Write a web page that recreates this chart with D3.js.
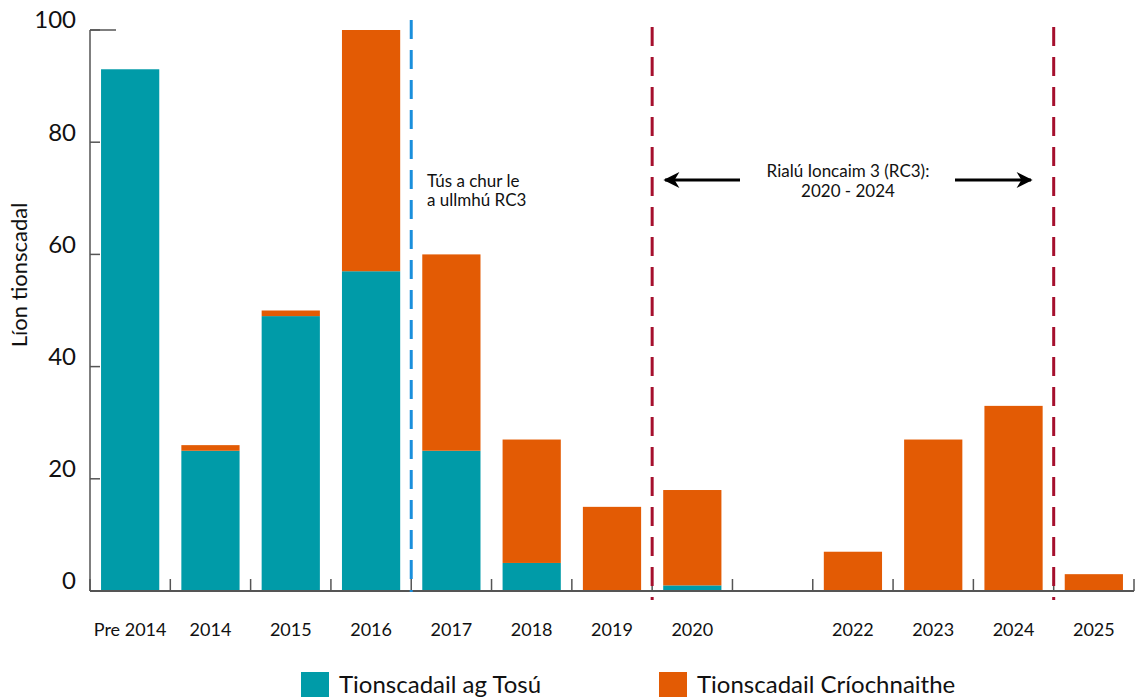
<!DOCTYPE html>
<html><head><meta charset="utf-8">
<script src="https://cdn.jsdelivr.net/npm/d3@7"></script>
<style>body{margin:0;background:#fff;font-family:Lato,"Open Sans",sans-serif;}</style>
</head><body>
<svg id="c" width="1135" height="697"></svg>
<script>
const categories = ["Pre 2014","2014","2015","2016","2017","2018","2019","2020","2021","2022","2023","2024","2025"];
const tickLabels = ["Pre 2014","2014","2015","2016","2017","2018","2019","2020","","2022","2023","2024","2025"];
const started  = [93,25,49,57,25,5,0,1,0,0,0,0,0];
const finished = [0,1,1,43,35,22,15,17,0,7,27,33,3];
const yTicks = [0,20,40,60,80,100];
const seriesNames = ["Tionscadail ag Tosú","Tionscadail Críochnaithe"];
const colors = ["#009ba8","#e35b04"];

const svg = d3.select("#c");
const L = 90, R = 1134, T = 30, B = 591;
const x = d3.scaleBand().domain(categories).range([L,R]).paddingInner(0.275).paddingOuter(0.1375);
const y = d3.scaleLinear().domain([0,100]).range([B,T]);
const font = "Lato, 'Open Sans', sans-serif";

// bars
const data = categories.map((c,i)=>({c, s:started[i], f:finished[i]}));
const g = svg.append("g");
g.selectAll("rect.s").data(data).join("rect")
  .attr("x",d=>x(d.c)).attr("width",x.bandwidth())
  .attr("y",d=>y(d.s)).attr("height",d=>y(0)-y(d.s)).attr("fill",colors[0]);
g.selectAll("rect.f").data(data).join("rect")
  .attr("x",d=>x(d.c)).attr("width",x.bandwidth())
  .attr("y",d=>y(d.s+d.f)).attr("height",d=>y(d.s)-y(d.s+d.f)).attr("fill",colors[1]);

// axes
const axisColor = "#555";
svg.append("line").attr("x1",L).attr("x2",L).attr("y1",T).attr("y2",B).attr("stroke",axisColor).attr("stroke-width",1.5);
svg.append("line").attr("x1",L).attr("x2",R).attr("y1",B).attr("y2",B).attr("stroke",axisColor).attr("stroke-width",2);
svg.append("line").attr("x1",L).attr("x2",L+26).attr("y1",y(100)).attr("y2",y(100)).attr("stroke",axisColor).attr("stroke-width",1.5);
yTicks.forEach(t=>{
  svg.append("line").attr("x1",L).attr("x2",L+10).attr("y1",y(t)).attr("y2",y(t)).attr("stroke",axisColor).attr("stroke-width",1.5);
  svg.append("text").attr("x",76).attr("y",y(t)-10).attr("dy","0.35em").attr("text-anchor","end")
    .attr("font-family",font).attr("font-size",24).attr("fill","#111").text(t);
});
const step = x.step();
const bounds = d3.range(categories.length+1).map(i => (i<categories.length ? x(categories[i]) - step*x.paddingInner()/2 : R));
bounds.forEach(bx=>{
  svg.append("line").attr("x1",bx).attr("x2",bx).attr("y1",B-12).attr("y2",B).attr("stroke",axisColor).attr("stroke-width",1.5);
});
categories.forEach((c,i)=>{
  svg.append("text").attr("x",x(c)+x.bandwidth()/2).attr("y",636).attr("text-anchor","middle")
    .attr("font-family",font).attr("font-size",18).attr("fill","#111").text(tickLabels[i]);
});
svg.append("text").attr("transform",`translate(27,275) rotate(-90)`).attr("text-anchor","middle")
  .attr("font-family",font).attr("font-size",22).attr("fill","#111").text("Líon tionscadal");

// reference lines
const bx = c => x(c) - step*x.paddingInner()/2;
svg.append("line").attr("x1",bx("2017")).attr("x2",bx("2017")).attr("y1",20).attr("y2",592)
  .attr("stroke","#1a8fdc").attr("stroke-width",3).attr("stroke-dasharray","19,11");
[bx("2020"), bx("2025")].forEach(px=>{
  svg.append("line").attr("x1",px).attr("x2",px).attr("y1",27).attr("y2",600)
    .attr("stroke","#a50f2d").attr("stroke-width",3).attr("stroke-dasharray","19,11");
});

// annotations
const ann = svg.append("g").attr("font-family",font).attr("font-size",17).attr("fill","#111");
ann.append("text").attr("x",427).attr("y",187).text("Tús a chur le");
ann.append("text").attr("x",427).attr("y",206).text("a ullmhú RC3");
ann.append("text").attr("x",848).attr("y",177).attr("text-anchor","middle").text("Rialú Ioncaim 3 (RC3):");
ann.append("text").attr("x",848).attr("y",197).attr("text-anchor","middle").text("2020 - 2024");

svg.append("defs").append("marker").attr("id","ah").attr("viewBox","0 0 10 10").attr("refX",9).attr("refY",5)
  .attr("markerWidth",24).attr("markerHeight",16).attr("markerUnits","userSpaceOnUse").attr("orient","auto")
  .append("path").attr("d","M0,0 L10,5 L0,10 L3,5 Z").attr("fill","#000");
svg.append("line").attr("x1",740).attr("x2",665).attr("y1",180).attr("y2",180).attr("stroke","#000").attr("stroke-width",3).attr("marker-end","url(#ah)");
svg.append("line").attr("x1",955).attr("x2",1031).attr("y1",180).attr("y2",180).attr("stroke","#000").attr("stroke-width",3).attr("marker-end","url(#ah)");

// legend
const lg = [{x:301},{x:659}];
lg.forEach((l,i)=>{
  svg.append("rect").attr("x",l.x).attr("y",672).attr("width",28).attr("height",25).attr("fill",colors[i]);
  svg.append("text").attr("x",l.x+38).attr("y",693).attr("font-family",font).attr("font-size",24).attr("fill","#111").text(seriesNames[i]);
});
</script>
</body></html>
